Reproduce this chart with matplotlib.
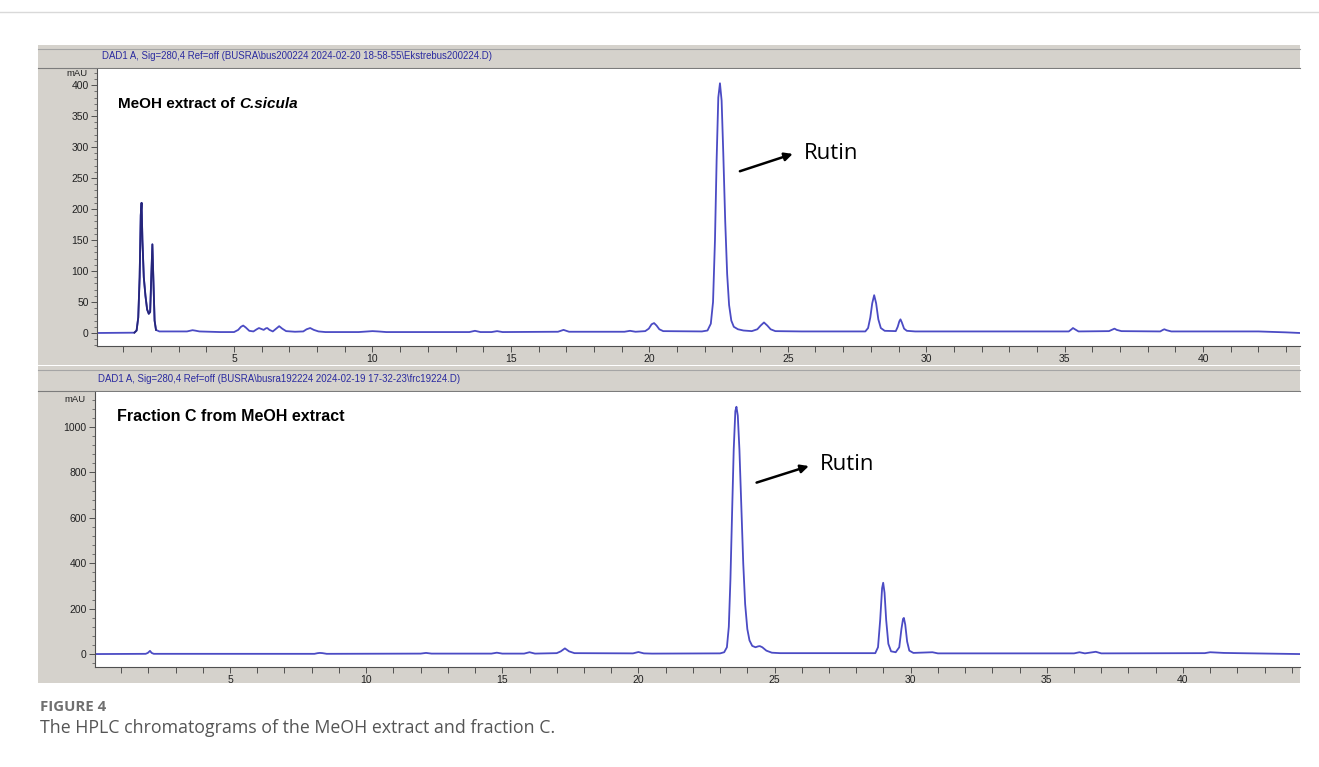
# HPLC chromatograms of the MeOH extract and fraction C (two stacked ChemStation-style panels)

import matplotlib.pyplot as plt
from matplotlib.patches import Rectangle
from matplotlib.lines import Line2D
from matplotlib.ticker import MultipleLocator

# --- data: retention time (min) and signal (mAU) ---
t_extract = [0.05, 1.40, 1.48, 1.54, 1.59, 1.63, 1.66, 1.69, 1.74, 1.80, 1.86, 1.92, 1.97, 2.01,
             2.05, 2.09, 2.13, 2.18, 2.30, 3.30, 3.42, 3.50, 3.60, 3.75, 4.50, 5.00, 5.15, 5.25,
             5.33, 5.42, 5.55, 5.70, 5.82, 5.90, 5.98, 6.07, 6.15, 6.20, 6.28, 6.40, 6.52, 6.63,
             6.74, 6.88, 7.20, 7.50, 7.62, 7.75, 7.88, 8.05, 8.30, 9.50, 9.80, 10.00, 10.20, 10.50,
             13.50, 13.70, 13.90, 14.30, 14.50, 14.70, 16.70, 16.90, 17.10, 19.10, 19.30, 19.50,
             19.85, 19.98, 20.08, 20.17, 20.26, 20.36, 20.50,
             21.90, 22.10, 22.22, 22.30, 22.37, 22.43, 22.49, 22.55, 22.61, 22.67, 22.74, 22.81,
             22.88, 22.96, 23.05, 23.20, 23.40, 23.70, 23.90, 24.02, 24.14, 24.26, 24.38, 24.55,
             25.50, 27.80, 27.90, 27.98, 28.05, 28.12, 28.19, 28.27, 28.36, 28.50, 28.90, 28.97,
             29.03, 29.07, 29.12, 29.20, 29.30, 29.60, 35.15, 35.25, 35.30, 35.37, 35.50, 36.60,
             36.72, 36.80, 36.88, 37.05, 38.45, 38.55, 38.60, 38.68, 38.85, 42.00, 43.00, 43.50]
y_extract = [0, 0.5, 4, 25, 90, 190, 210, 150, 90, 60, 38, 31, 34, 90,
             143, 80, 20, 5, 2.5, 2.5, 3.8, 4.5, 3.8, 2.5, 1.5, 1.5, 5, 10,
             12, 9, 3.5, 2.5, 6, 8, 6.5, 5, 7.5, 8, 5, 2.5, 7, 11,
             7, 3, 2, 2.5, 6, 8, 5, 2.5, 1.5, 1.5, 2.5, 3, 2.5, 1.5,
             1.5, 3.5, 1.5, 1.5, 3, 1.5, 2, 5, 2, 2, 3.5, 2,
             3, 7, 14, 16, 12, 6, 3,
             2.5, 4, 15, 50, 150, 280, 380, 403, 375, 290, 180, 95,
             45, 20, 10, 6, 4, 3, 6, 12, 17, 12, 6, 3,
             2.5, 2.5, 8, 25, 48, 61, 48, 22, 8, 3.5, 3, 10,
             19, 22, 17, 7, 3.5, 2.5, 2.5, 6, 8, 6, 2.5, 3,
             5.5, 7, 5, 3, 2.5, 5, 6, 4.5, 2.5, 2.5, 1, 0]

t_fraction = [0.04, 1.90, 1.98, 2.06, 2.12, 2.20, 8.10, 8.22, 8.30, 8.40, 8.55, 12.00, 12.20,
              12.40, 14.60, 14.80, 15.00, 15.80, 16.00, 16.20, 17.00, 17.15, 17.30, 17.45, 17.65,
              19.80, 20.00, 20.20, 20.50,
              23.00, 23.15, 23.25, 23.32, 23.38, 23.44, 23.50, 23.56, 23.60, 23.65, 23.71, 23.78,
              23.85, 23.92, 24.00, 24.08, 24.18, 24.30, 24.40, 24.46, 24.55, 24.70, 24.90, 25.20,
              28.70, 28.80, 28.88, 28.95, 28.99, 29.04, 29.10, 29.18, 29.28, 29.45, 29.58, 29.66,
              29.72, 29.75, 29.80, 29.87, 29.95, 30.10, 30.80, 31.00, 36.00, 36.20, 36.40, 36.80,
              37.00, 40.80, 41.00, 41.50, 42.00, 44.30]
y_fraction = [0, 1, 5, 14, 5, 1, 1, 4, 5, 4, 1, 2, 5,
              2, 2, 6, 2, 2, 8, 2, 4, 12, 25, 12, 4,
              3, 9, 3, 2,
              3, 8, 30, 120, 330, 620, 900, 1070, 1089, 1050, 900, 650,
              400, 220, 110, 60, 36, 30, 34, 35, 30, 15, 6, 4,
              4, 30, 150, 290, 314, 270, 150, 45, 12, 8, 30, 110,
              155, 159, 130, 55, 15, 5, 8, 3, 3, 8, 3, 10,
              3, 4, 8, 5, 4, 0]

headers = [r"DAD1 A, Sig=280,4 Ref=off (BUSRA\bus200224 2024-02-20 18-58-55\Ekstrebus200224.D)",
           r"DAD1 A, Sig=280,4 Ref=off (BUSRA\busra192224 2024-02-19 17-32-23\frc19224.D)"]

W, H = 1319, 767
GRAY = '#d5d2cc'
TRACE = '#4b4bc4'

fig = plt.figure(figsize=(W / 100, H / 100), dpi=100)


def fig_rect(x0, y0, x1, y1, color):
    fig.patches.append(Rectangle((x0 / W, 1 - y1 / H), (x1 - x0) / W, (y1 - y0) / H,
                                 transform=fig.transFigure, color=color, zorder=-5, lw=0))


def fig_hline(y, x0, x1, color, lw=1.0):
    fig.lines.append(Line2D([x0 / W, x1 / W], [1 - y / H, 1 - y / H],
                            transform=fig.transFigure, color=color, lw=lw, zorder=-4))


def px_axes(x0, y0, x1, y1):
    return fig.add_axes([x0 / W, 1 - y1 / H, (x1 - x0) / W, (y1 - y0) / H])


# thin rule at the top of the page
fig_hline(12, 0, W, '#d9d9d9', 1.0)

# window frames and header bars
for (fy0, fy1, hy1) in [(45, 365, 68), (366, 683, 391)]:
    fig_rect(38, fy0, 1300, fy1, GRAY)
    fig_hline(fy0 + 3.5, 38, 1300, '#a5a5a5', 0.8)
    fig_hline(hy1 - 0.5, 38, 1300, '#7c7c7c', 0.8)

fig.text(102 / W, 1 - 56 / H, headers[0], color='#2a2aa0', fontsize=6.95,
         family='Liberation Sans', va='center', ha='left')
fig.text(98 / W, 1 - 379 / H, headers[1], color='#2a2aa0', fontsize=6.95,
         family='Liberation Sans', va='center', ha='left')

ax1 = px_axes(97, 69, 1300, 346)
ax2 = px_axes(95, 392, 1300, 667)

ax1.plot(t_extract, y_extract, color=TRACE, lw=1.3)
# the first cluster is drawn darker in the original
n_dark = sum(1 for t in t_extract if t < 2.25)
ax1.plot(t_extract[1:n_dark], y_extract[1:n_dark], color='#26267a', lw=1.3)
ax2.plot(t_fraction, y_fraction, color=TRACE, lw=1.3)

ax1.set_xlim(0.05, 43.5)
ax1.set_ylim(-21, 426)
ax1.yaxis.set_major_locator(MultipleLocator(50))
ax1.yaxis.set_minor_locator(MultipleLocator(10))

ax2.set_xlim(0.04, 44.3)
ax2.set_ylim(-57, 1154)
ax2.yaxis.set_major_locator(MultipleLocator(200))
ax2.yaxis.set_minor_locator(MultipleLocator(40))

for ax in (ax1, ax2):
    ax.set_facecolor('white')
    ax.spines['top'].set_visible(False)
    ax.spines['right'].set_visible(False)
    for s in ('left', 'bottom'):
        ax.spines[s].set_color('#505050')
        ax.spines[s].set_linewidth(0.8)
    ax.xaxis.set_major_locator(MultipleLocator(5))
    ax.xaxis.set_minor_locator(MultipleLocator(1))
    ax.tick_params(axis='both', which='major', direction='out', length=4, width=0.7,
                   color='#505050', labelsize=7.5, labelcolor='#222222', pad=2)
    ax.tick_params(axis='y', which='minor', direction='out', length=2, width=0.6, color='#606060')
    ax.tick_params(axis='x', which='minor', direction='out', length=4, width=0.7, color='#505050')
    ax.set_xticks([v for v in range(5, 45, 5)])
    for lab in ax.get_xticklabels() + ax.get_yticklabels():
        lab.set_family('Liberation Sans')

fig.text(88 / W, 1 - 74 / H, 'mAU', fontsize=6.8, family='Liberation Sans',
         ha='right', va='center', color='#222222')
fig.text(86 / W, 1 - 399 / H, 'mAU', fontsize=6.8, family='Liberation Sans',
         ha='right', va='center', color='#222222')

# panel titles
t1 = ax1.text(0.0175, 0.859, 'MeOH extract of ', transform=ax1.transAxes, fontsize=11,
              fontweight='bold', family='Liberation Sans', va='baseline', ha='left')
ax1.annotate('C.sicula', xy=(1, 0), xycoords=t1, fontsize=11, fontweight='bold',
             fontstyle='italic', family='Liberation Sans', va='bottom', ha='left')
ax2.text(0.018, 0.893, 'Fraction C from MeOH extract', transform=ax2.transAxes, fontsize=11.5,
         fontweight='bold', family='Liberation Sans', va='baseline', ha='left')

# Rutin labels
arrow = dict(arrowstyle='-|>', lw=1.8, color='black', mutation_scale=12, shrinkA=0, shrinkB=0)
ax1.annotate('', xy=(25.18, 289), xytext=(23.27, 261), arrowprops=arrow)
ax1.text(25.58, 289, 'Rutin', fontsize=16, family='Open Sans', va='center', ha='left')
ax2.annotate('', xy=(26.26, 828), xytext=(24.34, 755), arrowprops=arrow)
ax2.text(26.66, 833, 'Rutin', fontsize=16, family='Open Sans', va='center', ha='left')

# caption
fig.text(40 / W, 1 - 707 / H, 'FIGURE 4', fontsize=10.8, fontweight='bold',
         family='Open Sans', color='#707070', va='center', ha='left')
fig.text(40 / W, 1 - 728 / H, 'The HPLC chromatograms of the MeOH extract and fraction C.',
         fontsize=12.8, family='Open Sans', color='#555555', va='center', ha='left')

fig.savefig('out.png', dpi=100)
